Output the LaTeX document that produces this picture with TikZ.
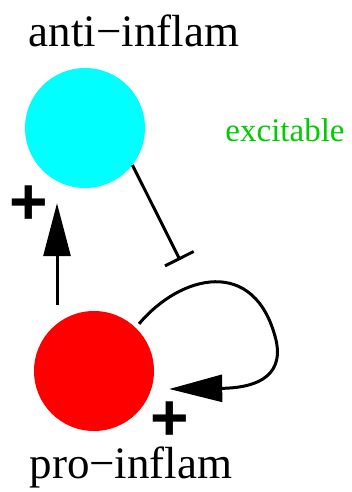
\documentclass[tikz,border=0pt]{standalone}
\usepackage{fontspec}
\setmainfont{Liberation Serif}
\newfontfamily\plusfont{Liberation Sans}
\usetikzlibrary{arrows.meta,calc,positioning}
\definecolor{antiblue}{RGB}{0,255,255}
\definecolor{prored}{RGB}{255,0,0}
\definecolor{exgreen}{RGB}{0,204,0}

\begin{document}
\begin{tikzpicture}[x=1pt, y=-1pt,
    cell/.style={circle, minimum size=120pt, inner sep=0pt},
    lbl/.style={font=\fontsize{45}{50}\selectfont, inner sep=0pt},
    sign/.style={font=\plusfont\bfseries\fontsize{66}{66}\selectfont, inner sep=0pt, anchor=base},
    act/.style={line width=3pt, -{Triangle[length=53pt,width=27pt]}},
    inh/.style={line width=3pt, -{Bar[width=32pt]}}]
    \useasboundingbox (0,0) rectangle (351,492);

    % two populations
    \node[cell, fill=antiblue] (anti) at (85,128) {};
    \node[cell, fill=prored] (pro) at (94,371) {};

    % labels
    \node[lbl] (antilbl) at (134,31) {anti−inflam};
    \node[lbl] (prolbl) at (131,467) {pro−inflam};
    \node[font=\fontsize{33}{40}\selectfont, text=exgreen, inner sep=0pt] (exc) at (285,130) {excitable};

    % anti inhibits pro
    \coordinate (inhend) at (180,260);
    \draw[inh] (anti.-38) -- (inhend);

    % pro activates anti
    \draw[act] ([xshift=-37pt, yshift=6pt]pro.north) -- ([xshift=-28pt, yshift=-15pt]anti.south);
    \node[sign] (plusup) at (29,224) {+};

    % self activation of pro
    \draw[act, shorten <=5pt] (pro.46) .. controls (180,275) and (255,255) .. (276,340)
        .. controls (285,380) and (250,388) .. ([xshift=15pt, yshift=-18pt]pro.east);
    \node[sign] (plusloop) at (170,440) {+};
\end{tikzpicture}
\end{document}
